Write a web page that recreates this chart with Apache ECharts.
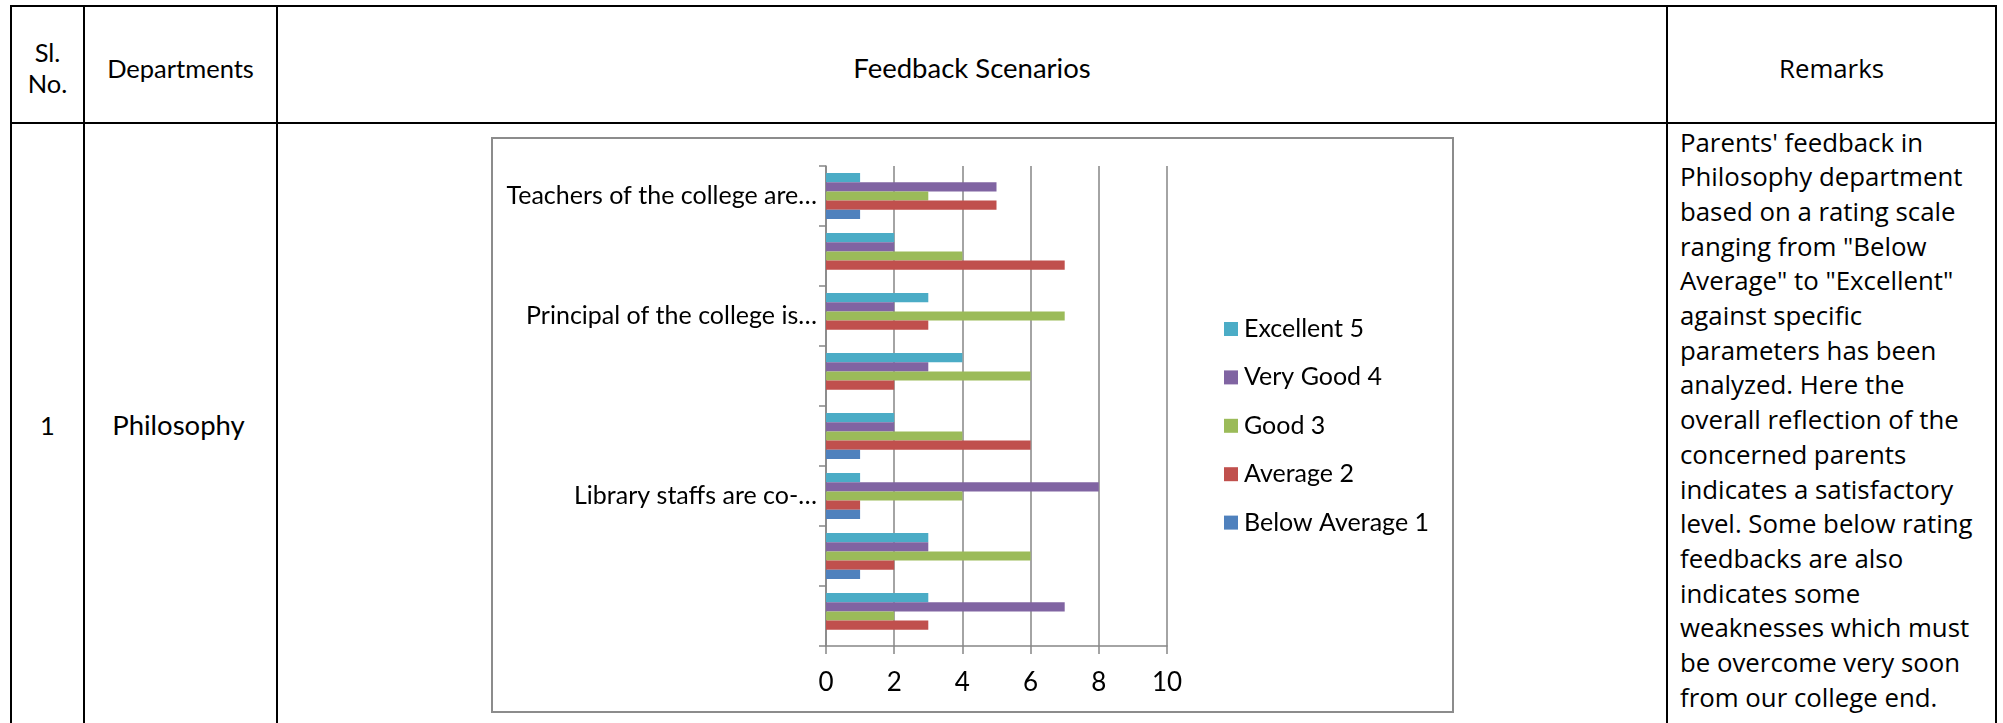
<!DOCTYPE html>
<html>
<head>
<meta charset="utf-8">
<script src="https://cdn.jsdelivr.net/npm/echarts@6/dist/echarts.min.js"></script>
<style>
  html, body { margin: 0; padding: 0; background: #fff; }
  body { width: 2003px; height: 723px; position: relative; overflow: hidden; }
  .ln { position: absolute; background: #000; }
  .t { position: absolute; font-family: Lato, "Noto Sans", sans-serif; font-size: 25.5px; color: #000; text-align: center; white-space: nowrap; }
  .rm { position: absolute; font-family: "Open Sans", "Noto Sans", sans-serif; font-size: 25.8px; color: #000; white-space: nowrap; }
  #chart { position: absolute; left: 491px; top: 137px; width: 963px; height: 576px; }
  #frame { position: absolute; left: 491px; top: 137px; width: 963px; height: 576px; box-sizing: border-box; border: 2px solid #8c8c8c; pointer-events: none; }
</style>
</head>
<body>
<!-- table rules -->
<div class="ln" style="left:10px;top:5px;width:1987px;height:2px"></div>
<div class="ln" style="left:10px;top:122px;width:1987px;height:2px"></div>
<div class="ln" style="left:10px;top:5px;width:2px;height:718px"></div>
<div class="ln" style="left:83px;top:5px;width:2px;height:718px"></div>
<div class="ln" style="left:276px;top:5px;width:2px;height:718px"></div>
<div class="ln" style="left:1666px;top:5px;width:2px;height:718px"></div>
<div class="ln" style="left:1995px;top:5px;width:2px;height:718px"></div>

<!-- header texts -->
<div class="t" style="left:12px;width:71px;top:37px;line-height:31px">Sl.<br>No.</div>
<div class="t" style="left:85px;width:191px;top:52px;line-height:32px">Departments</div>
<div class="t" style="left:278px;width:1388px;top:52px;line-height:32px;font-size:27.5px">Feedback Scenarios</div>
<div class="rm" style="left:1668px;width:327px;top:50px;line-height:37px;text-align:center">Remarks</div>

<!-- row 1 -->
<div class="t" style="left:12px;width:71px;top:409px;line-height:32px">1</div>
<div class="t" style="left:83px;width:191px;top:409px;line-height:32px;font-size:27.5px">Philosophy</div>

<div class="rm" id="remarks" style="left:1680px;top:124.5px;line-height:34.7px"></div>

<div id="chart"></div>
<div id="frame"></div>

<script>
// ---- data ----
const categories = [
  "", "", "Library staffs are co-…", "", "", "Principal of the college is…", "", "Teachers of the college are…"
]; // bottom to top
const belowAverage1 = [0, 1, 1, 1, 0, 0, 0, 1];
const average2      = [3, 2, 1, 6, 2, 3, 7, 5];
const good3         = [2, 6, 4, 4, 6, 7, 4, 3];
const veryGood4     = [7, 3, 8, 2, 3, 2, 2, 5];
const excellent5    = [3, 3, 1, 2, 4, 3, 2, 1];
const seriesNames = ["Excellent 5", "Very Good 4", "Good 3", "Average 2", "Below Average 1"];
const xTicks = [0, 2, 4, 6, 8, 10];
const remarkLines = [
  "Parents' feedback in",
  "Philosophy department",
  "based on a rating scale",
  "ranging from \"Below",
  "Average\" to \"Excellent\"",
  "against specific",
  "parameters has been",
  "analyzed. Here the",
  "overall reflection of the",
  "concerned parents",
  "indicates a satisfactory",
  "level. Some below rating",
  "feedbacks are also",
  "indicates some",
  "weaknesses which must",
  "be overcome very soon",
  "from our college end."
];

document.getElementById('remarks').innerHTML = remarkLines.map(s => s.replace(/&/g,'&amp;').replace(/</g,'&lt;')).join('<br>');

const colors = {
  "Below Average 1": "#4F81BD",
  "Average 2": "#C0504D",
  "Good 3": "#9BBB59",
  "Very Good 4": "#8064A2",
  "Excellent 5": "#4BACC6"
};
const values = [excellent5, veryGood4, good3, average2, belowAverage1];

const chart = echarts.init(document.getElementById('chart'), null, { renderer: 'canvas' });
const font = 'Lato';
const gridColor = '#868686';

chart.setOption({
  animation: false,
  backgroundColor: '#fff',
  grid: { left: 335, top: 29, width: 341, height: 480, containLabel: false },
  legend: {
    orient: 'vertical',
    left: 728,
    top: 172,
    data: seriesNames.slice(),
    icon: 'rect',
    itemWidth: 14,
    itemHeight: 14,
    itemGap: 18.4,
    textStyle: { fontFamily: font, fontSize: 25, color: '#000', lineHeight: 30, padding: [0, 0, 0, 1] }
  },
  xAxis: {
    type: 'value',
    min: xTicks[0],
    max: xTicks[xTicks.length - 1],
    interval: xTicks[1] - xTicks[0],
    axisLine: { show: true, lineStyle: { color: gridColor, width: 1.5 } },
    axisTick: { show: true, length: 8, lineStyle: { color: gridColor, width: 1.5 } },
    splitLine: { show: true, lineStyle: { color: gridColor, width: 1.5 } },
    axisLabel: { fontFamily: font, fontSize: 26, color: '#000', margin: 24 }
  },
  yAxis: {
    type: 'category',
    data: categories,
    axisLine: { show: true, lineStyle: { color: gridColor, width: 1.5 } },
    axisTick: { show: true, length: 7, interval: 0, lineStyle: { color: gridColor, width: 1.5 } },
    splitLine: { show: false },
    axisLabel: { interval: 0, fontFamily: font, fontSize: 25, color: '#000', margin: 9 }
  },
  series: seriesNames.map((name, i) => ({
    name: name,
    type: 'bar',
    data: values[i],
    barWidth: 9.2,
    barGap: '0%',
    itemStyle: { color: colors[name] },
    emphasis: { disabled: true }
  }))
});
</script>
</body>
</html>
